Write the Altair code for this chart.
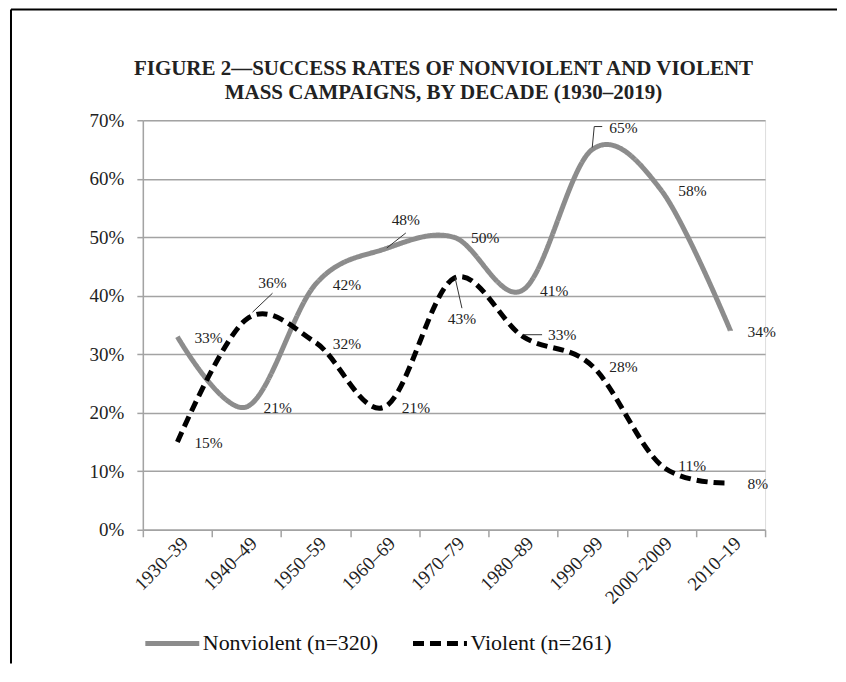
import altair as alt
import pandas as pd

decades = ["1930–39", "1940–49", "1950–59", "1960–69", "1970–79",
           "1980–89", "1990–99", "2000–2009", "2010–19"]
nonviolent = [33, 21, 42, 48, 50, 41, 65, 58, 34]
violent = [15, 36, 32, 21, 43, 33, 28, 11, 8]
series_names = ["Nonviolent (n=320)", "Violent (n=261)"]
title_lines = ["FIGURE 2—SUCCESS RATES OF NONVIOLENT AND VIOLENT",
               "MASS CAMPAIGNS, BY DECADE (1930–2019)"]

rows = []
for name, vals in zip(series_names, [nonviolent, violent]):
    for i, (d, v) in enumerate(zip(decades, vals)):
        rows.append({"i": i, "decade": d, "series": name, "value": v, "label": f"{v}%"})
df = pd.DataFrame(rows)

W, H = 623, 410
band = W / len(decades)
FONT = "Liberation Serif"
GRAY = "#a3a3a3"

arr = "[" + ",".join("'" + d + "'" for d in decades) + "]"
x_enc = alt.X(
    "i:Q",
    scale=alt.Scale(domain=[-0.5, len(decades) - 0.5], nice=False, zero=False),
    axis=alt.Axis(
        values=[k - 0.5 for k in range(len(decades) + 1)],
        labelExpr=arr + "[floor(datum.value + 1)] || ''",
        labelAngle=-45, labelAlign="right", labelBaseline="middle",
        labelOffset=band / 2 + 7, labelPadding=3,
        labelFont=FONT, labelFontSize=19, labelColor="#222",
        tickSize=7, tickColor=GRAY, domainColor=GRAY, tickWidth=1.5, domainWidth=1.5,
        grid=False, title=None, labelOverlap=False,
    ),
)
y_enc = alt.Y(
    "value:Q",
    scale=alt.Scale(domain=[0, 70], nice=False),
    axis=alt.Axis(
        values=list(range(0, 71, 10)), labelExpr="datum.value + '%'",
        labelFont=FONT, labelFontSize=19, labelColor="#222", labelPadding=13,
        tickSize=6, tickColor=GRAY, domainColor=GRAY, tickWidth=1.5, domainWidth=1.5,
        grid=True, gridColor=GRAY, gridWidth=1.5, title=None,
    ),
)

legend_props = dict(title=None, orient="none", legendX=0, legendY=494,
                    direction="horizontal", symbolType="stroke",
                    symbolSize=2916, symbolStrokeWidth=5,
                    labelFont=FONT, labelFontSize=22, labelColor="#111", labelLimit=0,
                    labelOffset=1, columnPadding=24, symbolOffset=0)

base = alt.Chart(df)

lines = base.mark_line(interpolate="cardinal", strokeWidth=5, strokeCap="butt").encode(
    x=x_enc, y=y_enc,
    color=alt.Color("series:N", scale=alt.Scale(domain=series_names, range=["#8c8c8c", "#000000"]),
                    legend=alt.Legend(**legend_props)),
    strokeDash=alt.StrokeDash("series:N", scale=alt.Scale(domain=series_names, range=[[1, 0], [11, 6]]),
                              legend=alt.Legend(**legend_props)),
)

special = [
    (series_names[0], 3, dict(align="center", dx=21, dy=-29), [(2, -1, 21, -16)]),
    (series_names[0], 6, dict(align="left", dx=17, dy=-22), [(0, -2, 2, -23), (2, -23, 10, -23)]),
    (series_names[1], 1, dict(align="center", dx=26, dy=-36), [(6, -7, 26, -26)]),
    (series_names[1], 4, dict(align="center", dx=8, dy=41), [(1, -1, 8, 30)]),
    (series_names[1], 5, dict(align="left", dx=25, dy=-2), [(0, -2, 19, -2)]),
]

txt_style = dict(font=FONT, fontSize=15.5, color="#222")

cond = None
for s, k, _, _ in special:
    c = (alt.datum.series == s) & (alt.datum.i == k)
    cond = c if cond is None else (cond | c)

normal_labels = base.transform_filter(~cond).mark_text(align="left", dx=17, dy=1, **txt_style).encode(
    x="i:Q", y="value:Q", text="label:N")

layers = [lines, normal_labels]
for s, k, tpos, segs in special:
    sel = base.transform_filter((alt.datum.series == s) & (alt.datum.i == k))
    layers.append(sel.mark_text(**tpos, **txt_style).encode(x="i:Q", y="value:Q", text="label:N"))
    for (x0, y0, x1, y1) in segs:
        layers.append(sel.mark_rule(color="#333", strokeWidth=1, xOffset=x0, yOffset=y0,
                                    x2Offset=x1, y2Offset=y1).encode(
            x="i:Q", x2=alt.X2("i"), y="value:Q", y2=alt.Y2("value")))

frame_df = pd.DataFrame({"k": [0]})
frame_top = alt.Chart(frame_df).mark_rule(color="#000", strokeWidth=2).encode(
    x=alt.value(-132), x2=alt.value(838 - 143), y=alt.value(-111))
frame_left = alt.Chart(frame_df).mark_rule(color="#000", strokeWidth=2).encode(
    x=alt.value(-132), y=alt.value(-111), y2=alt.value(664 - 120))
layers += [frame_top, frame_left]

title_style = dict(font=FONT, fontSize=21, fontWeight="bold", color="#222",
                   align="center", baseline="alphabetic")
for t, ty in zip(title_lines, [-45, -21]):
    layers.append(alt.Chart(frame_df).mark_text(**title_style).encode(
        x=alt.value(301), y=alt.value(ty), text=alt.value(t)))

chart = alt.layer(*layers).properties(
    width=W, height=H,
    padding={"left": 2, "top": 0, "right": 0, "bottom": 0},
).configure_view(stroke=None).configure(background="white")

chart.save("out.html", embed_options={"renderer": "svg", "actions": False})
